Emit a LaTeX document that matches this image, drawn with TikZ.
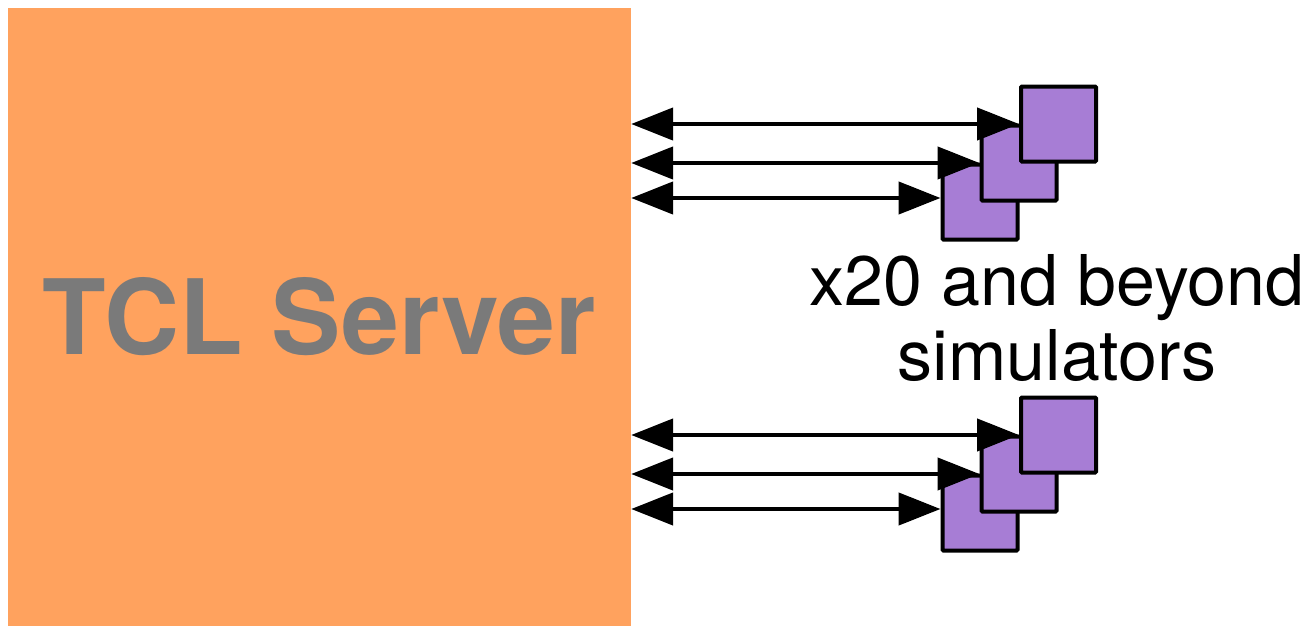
\documentclass[tikz,border=0pt]{standalone}
\usepackage{fontspec}
\setmainfont{TeX Gyre Heros}
\usepackage{tikz}
\usetikzlibrary{arrows.meta}

\definecolor{serverfill}{RGB}{255,162,94}
\definecolor{simfill}{RGB}{167,125,213}
\definecolor{servertext}{RGB}{122,122,122}

\tikzset{
  sim/.style={draw, rectangle, line width=4pt, rounded corners=1pt, fill=simfill, inner sep=0pt, minimum size=75pt},
  link/.style={{Triangle[length=42pt,width=32pt]}-{Triangle[length=42pt,width=32pt]}, line width=4.5pt}
}

\begin{document}
\begin{tikzpicture}[x=1pt, y=-1pt]
\useasboundingbox (0,0) rectangle (1309,626);

\node[rectangle, fill=serverfill, inner sep=0pt, minimum width=623pt, minimum height=618pt, text=servertext, font=\fontsize{104}{110}\selectfont\bfseries] (server) at (319.5,317) {TCL Server};

% first bank of simulators
\node[sim] (simA1) at (980,202) {};
\node[sim] (simA2) at (1019,163) {};
\node[sim] (simA3) at (1058.5,124) {};

% second bank
\node[sim] (simB1) at (980,513) {};
\node[sim] (simB2) at (1019,474) {};
\node[sim] (simB3) at (1058.5,435) {};

% the lowest link sits a bit above the centre of its box
\coordinate (endA1) at ([yshift=4pt]simA1.west);
\coordinate (endB1) at ([yshift=4pt]simB1.west);

\draw[link] (server.east |- simA3.west) -- (simA3.west);
\draw[link] (server.east |- simA2.west) -- (simA2.west);
\draw[link] (server.east |- endA1) -- (endA1);

\draw[link] (server.east |- simB3.west) -- (simB3.west);
\draw[link] (server.east |- simB2.west) -- (simB2.west);
\draw[link] (server.east |- endB1) -- (endB1);

\node[align=center, inner sep=0pt, font=\fontsize{70}{75}\selectfont] (label) at (1057,318) {x20 and beyond\\simulators};

\end{tikzpicture}
\end{document}
